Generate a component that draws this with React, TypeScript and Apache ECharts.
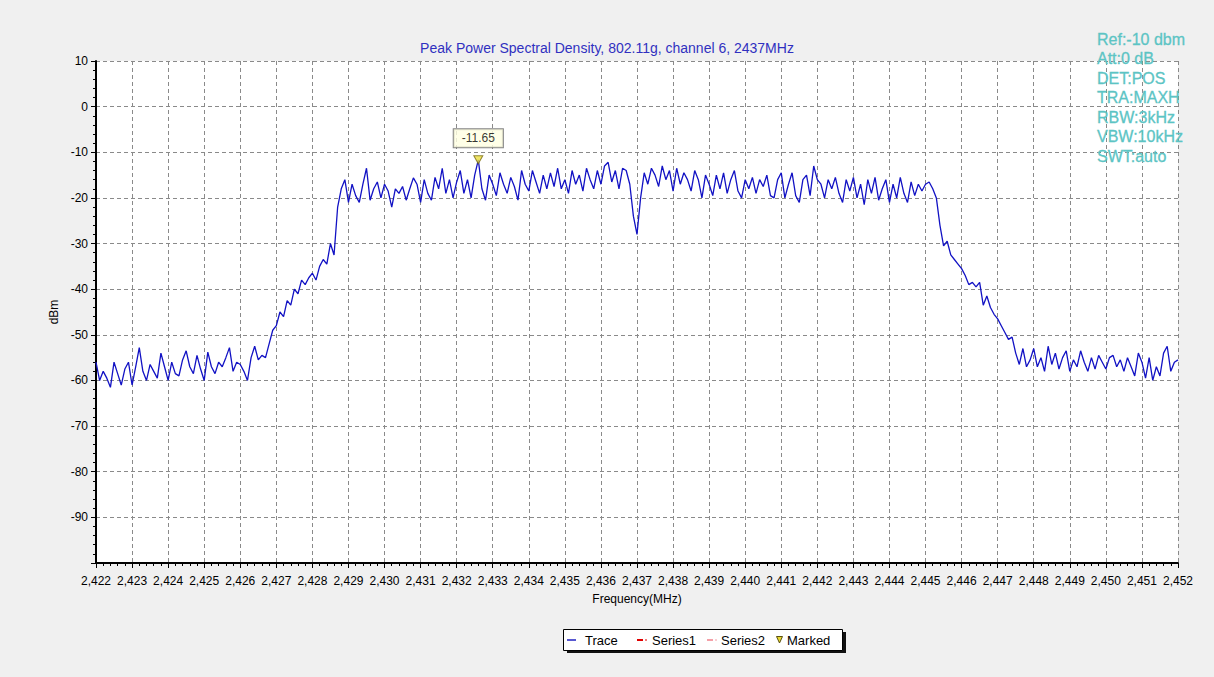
import React, { useEffect, useRef } from 'react';
import * as echarts from 'echarts';

const TITLE = 'Peak Power Spectral Density, 802.11g, channel 6, 2437MHz';
const INFO_LINES = ['Ref:-10 dbm', 'Att:0 dB', 'DET:POS', 'TRA:MAXH', 'RBW:3kHz', 'VBW:10kHz', 'SWT:auto'];
const X_NAME = 'Frequency(MHz)';
const Y_NAME = 'dBm';
const X_MIN = 2422;
const X_MAX = 2452;
const Y_MIN = -100;
const Y_MAX = 10;
const FREQ_START = 2422;
const FREQ_STEP = 0.1;

// Trace (dBm) sampled every 0.1 MHz from 2422.0 to 2452.0
const TRACE = [
  // 2422
  -56, -60, -58, -59.5, -61.5, -56, -58.5, -61, -57.5, -56,
  // 2423
  -61, -57, -52.8, -58, -60, -56.5, -58, -59.5, -54, -57,
  // 2424
  -60, -56, -58.5, -59, -55.5, -53.5, -57, -58.5, -54.5, -57.5,
  // 2425
  -60, -53.8, -57, -58.5, -56, -57, -55, -52.8, -58, -56,
  // 2426
  -56.5, -58, -60, -55, -52.5, -55.5, -54.5, -55, -52, -49,
  // 2427
  -48, -45, -46, -42.5, -43.5, -40, -41, -38, -39, -37.5,
  // 2428
  -36.5, -38, -35, -33.5, -34.5, -30, -32.5, -22, -18, -16,
  // 2429
  -21, -17, -19.5, -21, -17, -13.5, -20.5, -18, -16.5, -20,
  // 2430
  -17, -18.5, -22, -18, -19, -17.5, -20.5, -18, -15.6, -17,
  // 2431
  -21, -16, -19, -20.5, -15.5, -18, -13.5, -19, -16, -20,
  // 2432
  -16.5, -14, -19, -16, -20, -15, -11.65, -18, -20.5, -15,
  // 2433
  -17, -19.5, -14.5, -17, -19, -15.5, -17.5, -20.5, -14, -17,
  // 2434
  -18.5, -14, -16.5, -19, -15, -18, -14.5, -17.5, -13.5, -18,
  // 2435
  -16, -19, -14, -17, -15, -18.5, -13.5, -16, -18, -14,
  // 2436
  -17, -13, -12.2, -16.5, -14, -18, -13.5, -14, -17, -24,
  // 2437
  -28, -20, -14.5, -17, -13.5, -15, -17.5, -13, -16, -14,
  // 2438
  -18.5, -13.5, -17, -14.5, -16, -18.5, -14, -16, -20, -15,
  // 2439
  -17, -19.5, -15, -18, -14.5, -19, -16, -14, -18.5, -20,
  // 2440
  -16, -18, -15.5, -19, -16, -17.5, -15, -19.5, -20, -16,
  // 2441
  -14.5, -20, -17, -14.5, -19.5, -21, -16, -15, -19.5, -13,
  // 2442
  -16, -17, -20, -16, -18, -15.5, -19, -21, -16, -18.5,
  // 2443
  -15.5, -20, -17, -21.5, -16, -19, -15.5, -20.5, -18, -16,
  // 2444
  -21, -17, -20, -15.5, -19, -21, -16.5, -19.5, -17, -18.5,
  // 2445
  -17, -16.5, -18, -20, -26, -30.5, -29.5, -32.5, -33.5, -34.5,
  // 2446
  -35.5, -37, -39, -38.5, -39.5, -38.5, -43.5, -41.5, -44, -45.5,
  // 2447
  -46.5, -48, -49.5, -51, -50.5, -54, -56.5, -53, -57, -55.5,
  // 2448
  -53, -57, -55, -58, -52.5, -56.5, -54, -57.5, -55, -53.5,
  // 2449
  -58, -55.5, -57, -53.5, -56, -58, -55, -57.5, -54.5, -56,
  // 2450
  -57.5, -55, -54.5, -57, -55.5, -58, -55, -57, -59, -54,
  // 2451
  -56, -59.5, -55, -60, -57, -59, -54, -52.5, -58, -56,
  // 2452
  -55.5,
];

const MARKER_FREQ = 2432.6;
const MARKER_VALUE = -11.65;

const LEGEND_NAMES = ['Trace', 'Series1', 'Series2', 'Marked'];

const FONT = '"Liberation Sans", Arial, sans-serif';

export default function App() {
  const ref = useRef<HTMLDivElement>(null);

  useEffect(() => {
    if (!ref.current) return;
    const chart = echarts.init(ref.current, null, { renderer: 'svg' });

    const traceData = TRACE.map((v, i) => [Math.round((FREQ_START + i * FREQ_STEP) * 10) / 10, v]);

    const infoGraphics = INFO_LINES.map((t, i) => ({
      type: 'text',
      x: 1097,
      y: 31 + i * 19.5,
      style: { text: t, fill: '#5cc4c4', font: `16px ${FONT}`, stroke: '#5cc4c4', lineWidth: 0.3 },
      z: 100,
    }));

    const legendY = 640;
    const legendGraphics: any[] = [
      { type: 'rect', shape: { x: 567, y: 632, width: 279, height: 21 }, style: { fill: '#111' }, z: 50 },
      { type: 'rect', shape: { x: 563.5, y: 629.5, width: 279, height: 21 }, style: { fill: '#fff', stroke: '#000', lineWidth: 1 }, z: 51 },
      // Trace
      { type: 'line', shape: { x1: 567, y1: legendY, x2: 576, y2: legendY }, style: { stroke: '#2020c0', lineWidth: 1.5 }, z: 52 },
      { type: 'text', x: 585, y: legendY, style: { text: LEGEND_NAMES[0], fill: '#000', font: `13px ${FONT}`, verticalAlign: 'middle' }, z: 52 },
      // Series1
      { type: 'line', shape: { x1: 637, y1: legendY, x2: 643, y2: legendY }, style: { stroke: '#e00000', lineWidth: 2 }, z: 52 },
      { type: 'line', shape: { x1: 645, y1: legendY, x2: 647, y2: legendY }, style: { stroke: '#e00000', lineWidth: 1 }, z: 52 },
      { type: 'text', x: 652, y: legendY, style: { text: LEGEND_NAMES[1], fill: '#000', font: `13px ${FONT}`, verticalAlign: 'middle' }, z: 52 },
      // Series2
      { type: 'line', shape: { x1: 707, y1: legendY, x2: 713, y2: legendY }, style: { stroke: '#f4a0a8', lineWidth: 2 }, z: 52 },
      { type: 'line', shape: { x1: 715, y1: legendY, x2: 717, y2: legendY }, style: { stroke: '#f4a0a8', lineWidth: 1 }, z: 52 },
      { type: 'text', x: 721, y: legendY, style: { text: LEGEND_NAMES[2], fill: '#000', font: `13px ${FONT}`, verticalAlign: 'middle' }, z: 52 },
      // Marked
      { type: 'polygon', shape: { points: [[776.5, 636.5], [782.5, 636.5], [779.5, 643]] }, style: { fill: '#e8d830', stroke: '#5a5010', lineWidth: 1 }, z: 52 },
      { type: 'text', x: 787, y: legendY, style: { text: LEGEND_NAMES[3], fill: '#000', font: `13px ${FONT}`, verticalAlign: 'middle' }, z: 52 },
    ];

    const option: any = {
      animation: false,
      backgroundColor: '#f0f0f0',
      textStyle: { fontFamily: FONT },
      title: {
        text: TITLE,
        left: 'center',
        top: 36,
        textStyle: { color: '#3030c0', fontSize: 14, fontWeight: 'normal', fontFamily: FONT },
      },
      grid: {
        left: 96,
        right: 36,
        top: 61,
        bottom: 114,
        show: true,
        backgroundColor: '#ffffff',
        borderWidth: 0,
      },
      xAxis: {
        type: 'value',
        min: X_MIN,
        max: X_MAX,
        interval: 1,
        name: X_NAME,
        nameLocation: 'middle',
        nameGap: 30,
        nameTextStyle: { color: '#000', fontSize: 12, fontFamily: FONT },
        axisLine: { show: true, onZero: false, lineStyle: { color: '#000', width: 2 } },
        axisTick: { show: true, length: 5, lineStyle: { color: '#000' } },
        minorTick: { show: true, splitNumber: 5, length: 3, lineStyle: { color: '#000' } },
        axisLabel: {
          color: '#000',
          fontSize: 12,
          margin: 12,
          fontFamily: FONT,
          formatter: (v: number) => Math.round(v).toLocaleString('en-US'),
        },
        splitLine: { show: true, lineStyle: { color: '#8a8a8a', type: [4, 3], width: 1 } },
      },
      yAxis: {
        type: 'value',
        min: Y_MIN,
        max: Y_MAX,
        interval: 10,
        name: Y_NAME,
        nameLocation: 'middle',
        nameGap: 34,
        nameRotate: 90,
        nameTextStyle: { color: '#000', fontSize: 12, fontFamily: FONT },
        axisLine: { show: true, onZero: false, lineStyle: { color: '#000', width: 2 } },
        axisTick: { show: true, length: 5, lineStyle: { color: '#000' } },
        minorTick: { show: true, splitNumber: 5, length: 3, lineStyle: { color: '#000' } },
        axisLabel: {
          color: '#000',
          fontSize: 12,
          margin: 8,
          fontFamily: FONT,
          formatter: (v: number) => (v === Y_MIN ? '' : String(v)),
        },
        splitLine: { show: true, lineStyle: { color: '#8a8a8a', type: [4, 3], width: 1 } },
      },
      series: [
        {
          name: 'Trace',
          type: 'line',
          data: traceData,
          showSymbol: false,
          symbol: 'none',
          lineStyle: { color: '#1212c4', width: 1.3 },
          z: 3,
        },
        {
          name: 'Marked',
          type: 'scatter',
          data: [[MARKER_FREQ, MARKER_VALUE]],
          symbol: 'triangle',
          symbolRotate: 180,
          symbolSize: [9, 8],
          itemStyle: { color: '#ece040', borderColor: '#7a6c10', borderWidth: 1 },
          label: {
            show: true,
            position: 'top',
            distance: 8,
            formatter: (p: any) => String(p.value[1]),
            color: '#000',
            fontSize: 12,
            fontFamily: FONT,
            backgroundColor: '#ffffe1',
            borderColor: '#666',
            borderWidth: 1,
            padding: [3, 8],
          },
          z: 5,
        },
      ],
      graphic: [...infoGraphics, ...legendGraphics],
    };

    chart.setOption(option);
    return () => chart.dispose();
  }, []);

  return <div ref={ref} style={{ position: 'fixed', left: 0, top: 0, width: 1214, height: 677 }} />;
}
